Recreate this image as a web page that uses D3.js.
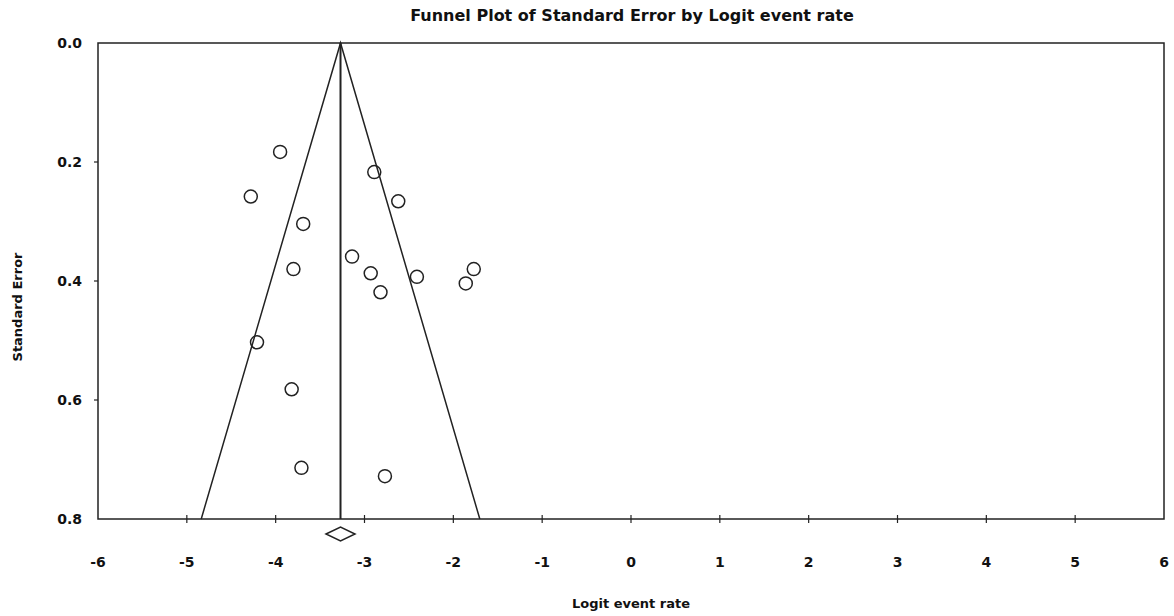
<!doctype html>
<html>
  <head>
    <script src="https://cdn.jsdelivr.net/npm/d3@7"></script>
    <style>
      body { margin: 0; background: #fff; overflow: hidden; }
      svg { display: block; }
      text { font-family: "DejaVu Sans", sans-serif; font-weight: 700; fill: #111; }
    </style>
  </head>
  <body>
    <script>
    // study points: logit event rate and standard error
    var logitRate = [-3.95, -4.28, -3.69, -3.80, -2.89, -2.62, -3.14, -2.93,
                     -2.82, -2.41, -1.77, -1.86, -4.21, -3.82, -3.71, -2.77];
    var stdError  = [0.183, 0.258, 0.304, 0.380, 0.217, 0.266, 0.359, 0.387,
                     0.419, 0.393, 0.380, 0.404, 0.503, 0.582, 0.714, 0.728];
    var pooled = -3.27;
    var xTicks = [-6, -5, -4, -3, -2, -1, 0, 1, 2, 3, 4, 5, 6];
    var yTicks = [0.0, 0.2, 0.4, 0.6, 0.8];

    var width = 1174;
    var height = 616;
    var margin = {top: 43, right: 10, bottom: 97, left: 98};
    var innerWidth = 1164 - margin.left;
    var innerHeight = 519 - margin.top;

    var svg = d3.select("body")
              .append("svg")
              .attr("width", width)
              .attr("height", height);

    var g = svg.append("g")
              .attr("transform", "translate(" + margin.left + "," + margin.top + ")");

    var xScale = d3.scaleLinear().domain([-6, 6]).range([0, innerWidth]);
    var yScale = d3.scaleLinear().domain([0, 0.8]).range([0, innerHeight]);

    // plot frame
    g.append("rect")
      .attr("width", innerWidth)
      .attr("height", innerHeight)
      .attr("fill", "none")
      .attr("stroke", "#222")
      .attr("stroke-width", 1.5);

    // x axis ticks (cross the line) and labels
    g.selectAll(".xt")
      .data(xTicks.slice(1, -1))
      .enter().append("line")
      .attr("x1", function(d) { return xScale(d); })
      .attr("x2", function(d) { return xScale(d); })
      .attr("y1", innerHeight - 4)
      .attr("y2", innerHeight + 4)
      .attr("stroke", "#222")
      .attr("stroke-width", 1.2);

    g.selectAll(".xl")
      .data(xTicks)
      .enter().append("text")
      .attr("x", function(d) { return xScale(d); })
      .attr("y", innerHeight + 48)
      .attr("text-anchor", "middle")
      .style("font-size", "14px")
      .text(function(d) { return d; });

    // y axis ticks and labels
    g.selectAll(".yt")
      .data(yTicks.slice(1, -1))
      .enter().append("line")
      .attr("x1", -4)
      .attr("x2", 0)
      .attr("y1", function(d) { return yScale(d); })
      .attr("y2", function(d) { return yScale(d); })
      .attr("stroke", "#222")
      .attr("stroke-width", 1.2);

    g.selectAll(".yl")
      .data(yTicks)
      .enter().append("text")
      .attr("x", -16)
      .attr("y", function(d) { return yScale(d); })
      .attr("dy", "0.35em")
      .attr("text-anchor", "end")
      .style("font-size", "14px")
      .text(function(d) { return d.toFixed(1); });

    // funnel: 95% limits around the pooled estimate
    var seMax = 0.8;
    g.append("path")
      .attr("d", d3.line()([
        [xScale(pooled - 1.96 * seMax), yScale(seMax)],
        [xScale(pooled), yScale(0)],
        [xScale(pooled + 1.96 * seMax), yScale(seMax)]
      ]))
      .attr("fill", "none")
      .attr("stroke", "#222")
      .attr("stroke-width", 1.5);

    g.append("line")
      .attr("x1", xScale(pooled))
      .attr("x2", xScale(pooled))
      .attr("y1", yScale(0))
      .attr("y2", yScale(seMax))
      .attr("stroke", "#222")
      .attr("stroke-width", 2);

    // pooled diamond below the axis
    var dx = xScale(pooled), dy = innerHeight + 15;
    g.append("path")
      .attr("d", "M" + (dx - 14.5) + "," + dy + "L" + dx + "," + (dy - 7) +
                 "L" + (dx + 14.5) + "," + dy + "L" + dx + "," + (dy + 7) + "Z")
      .attr("fill", "#fff")
      .attr("stroke", "#222")
      .attr("stroke-width", 1.5);

    // study circles
    g.selectAll("circle")
      .data(logitRate)
      .enter().append("circle")
      .attr("cx", function(d) { return xScale(d); })
      .attr("cy", function(d, i) { return yScale(stdError[i]); })
      .attr("r", 6.5)
      .attr("fill", "none")
      .attr("stroke", "#222")
      .attr("stroke-width", 1.5);

    // titles
    svg.append("text")
      .attr("x", 632)
      .attr("y", 21)
      .attr("text-anchor", "middle")
      .style("font-size", "16px")
      .text("Funnel Plot of Standard Error by Logit event rate");

    svg.append("text")
      .attr("x", 631)
      .attr("y", 608)
      .attr("text-anchor", "middle")
      .style("font-size", "13px")
      .text("Logit event rate");

    svg.append("text")
      .attr("transform", "translate(22,307) rotate(-90)")
      .attr("text-anchor", "middle")
      .style("font-size", "13px")
      .text("Standard Error");
    </script>
  </body>
</html>
